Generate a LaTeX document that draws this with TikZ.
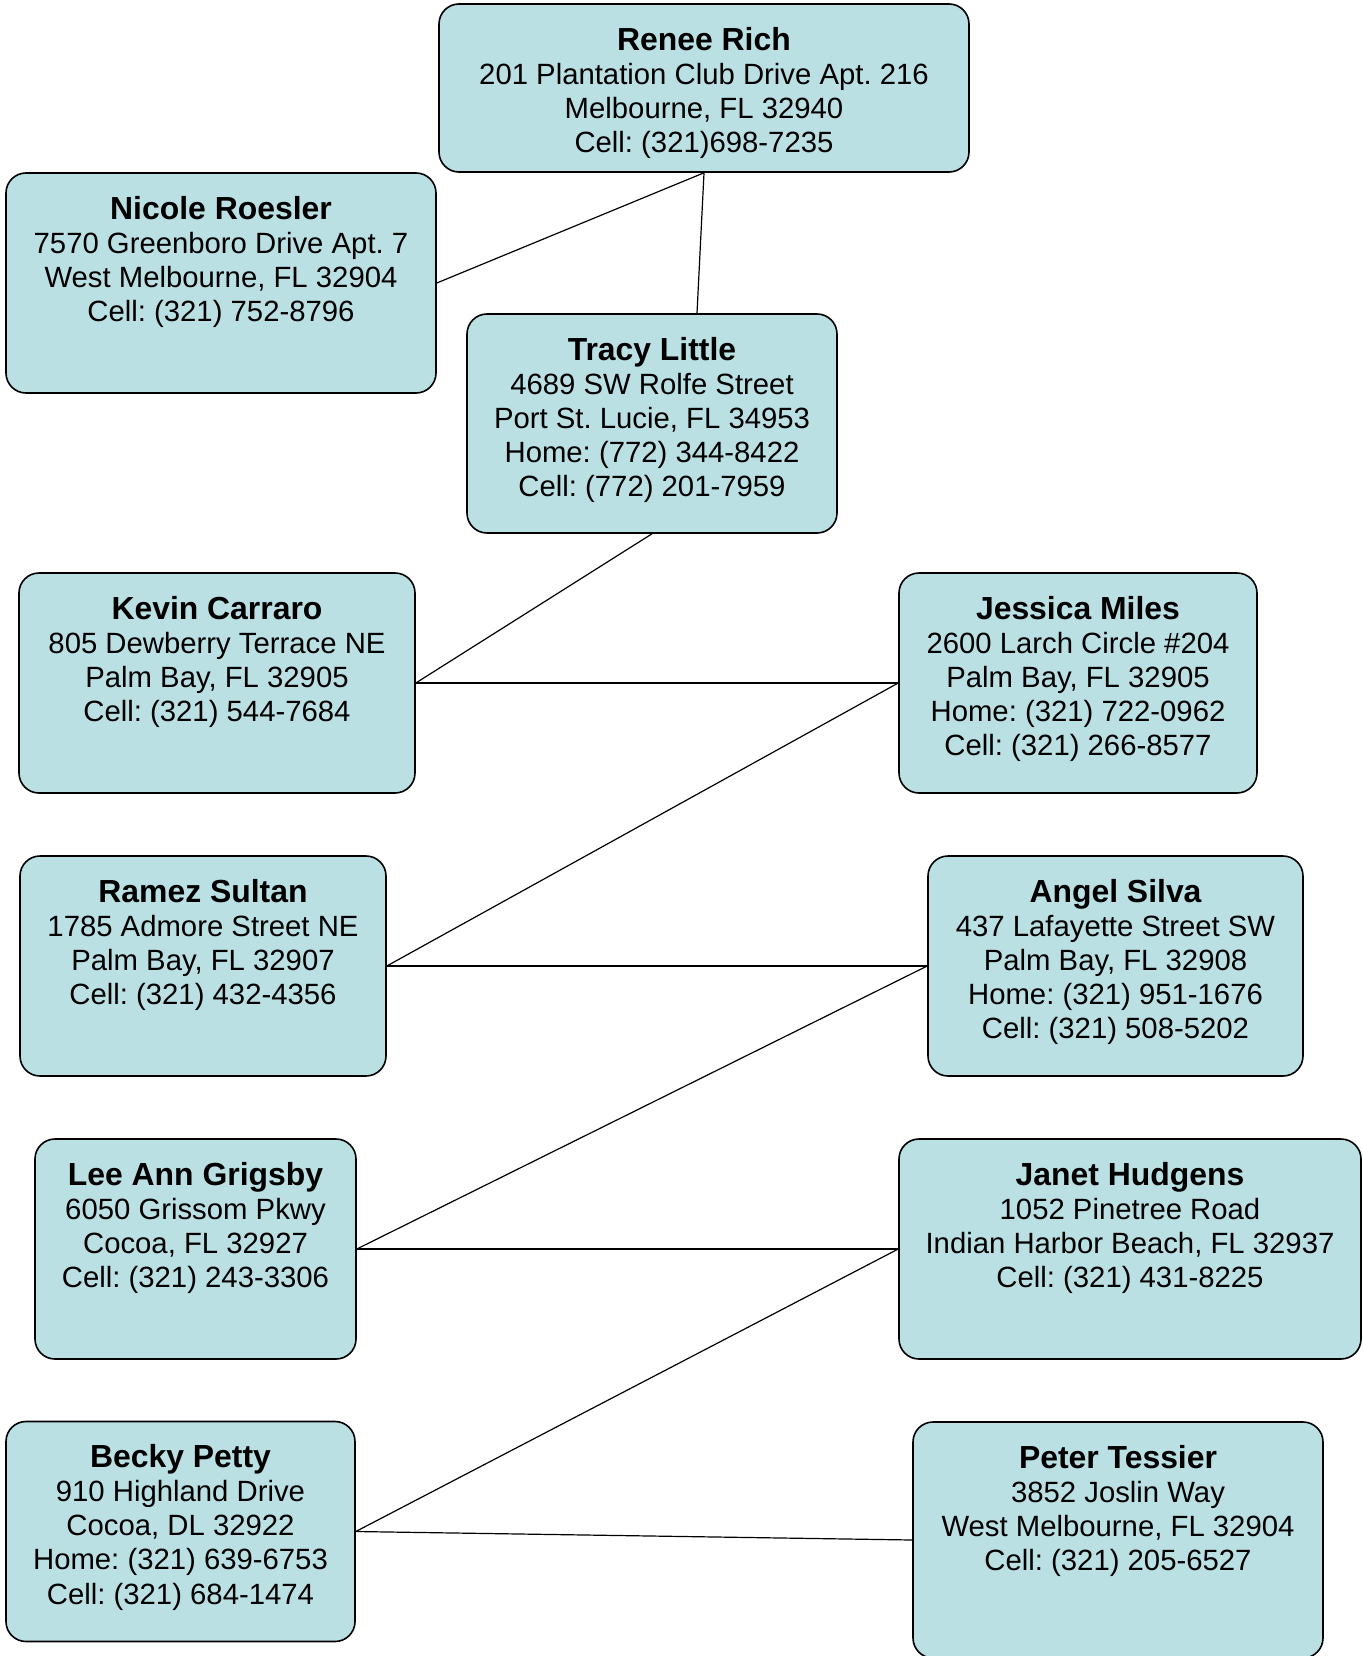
\documentclass[tikz,border=0pt]{standalone}
\usepackage{fontspec}
\setmainfont{Liberation Sans}
\usepackage{tikz}
\usetikzlibrary{positioning}
\definecolor{cardblue}{RGB}{186,224,227}
\tikzstyle{card} = [rectangle, draw=black, line width=1.6pt, fill=cardblue, rounded corners=20pt, inner sep=0pt, font=\fontsize{29.3}{34.1}\selectfont]
\tikzstyle{link} = [line width=1.2pt]
% box of given width and height, text at the top
\newcommand{\card}[3]{\parbox[c][#2pt][t]{#1pt}{\frenchspacing\centering\vspace*{23pt}#3}}
\newcommand{\pname}[1]{{\fontsize{31.9}{34.1}\selectfont\bfseries #1}}

\begin{document}
\begin{tikzpicture}[x=1pt, y=-1pt]
\useasboundingbox (0,0) rectangle (1362,1656);

% Top
\node (renee) [card] at (704,88) {\card{530}{168}{\pname{Renee Rich}\\201 Plantation Club Drive Apt. 216\\Melbourne, FL 32940\\Cell: (321)698-7235}};
\node (nicole) [card] at (221,283) {\card{430}{220}{\pname{Nicole Roesler}\\7570 Greenboro Drive Apt. 7\\West Melbourne, FL 32904\\Cell: (321) 752-8796}};
\node (tracy) [card] at (652,423.5) {\card{370}{219}{\pname{Tracy Little}\\4689 SW Rolfe Street\\Port St. Lucie, FL 34953\\Home: (772) 344-8422\\Cell: (772) 201-7959}};

% Left column
\node (kevin) [card] at (217,683) {\card{396}{220}{\pname{Kevin Carraro}\\805 Dewberry Terrace NE\\Palm Bay, FL 32905\\Cell: (321) 544-7684}};
\node (ramez) [card] at (203,966) {\card{366}{220}{\pname{Ramez Sultan}\\1785 Admore Street NE\\Palm Bay, FL 32907\\Cell: (321) 432-4356}};
\node (leeann) [card] at (195.5,1249) {\card{321}{220}{\pname{Lee Ann Grigsby}\\6050 Grissom Pkwy\\Cocoa, FL 32927\\Cell: (321) 243-3306}};
\node (becky) [card] at (180.5,1531.5) {\card{349}{220}{\pname{Becky Petty}\\910 Highland Drive\\Cocoa, DL 32922\\Home: (321) 639-6753\\Cell: (321) 684-1474}};

% Right column
\node (jessica) [card] at (1078,683) {\card{358}{220}{\pname{Jessica Miles}\\2600 Larch Circle \#204\\Palm Bay, FL 32905\\Home: (321) 722-0962\\Cell: (321) 266-8577}};
\node (angel) [card] at (1115.5,966) {\card{375}{220}{\pname{Angel Silva}\\437 Lafayette Street SW\\Palm Bay, FL 32908\\Home: (321) 951-1676\\Cell: (321) 508-5202}};
\node (janet) [card] at (1130,1249) {\card{462}{220}{\pname{Janet Hudgens}\\1052 Pinetree Road\\Indian Harbor Beach, FL 32937\\Cell: (321) 431-8225}};
\node (peter) [card] at (1118,1540) {\card{410}{236}{\pname{Peter Tessier}\\3852 Joslin Way\\West Melbourne, FL 32904\\Cell: (321) 205-6527}};

% Lines
\coordinate (tracytop) at ([xshift=45pt]tracy.north);
\draw [link] (renee.south) -- (nicole.east);
\draw [link] (renee.south) -- (tracytop);
\draw [link] (tracy.south) -- (kevin.east);
\draw [link] (kevin.east) -- (jessica.west);
\draw [link] (jessica.west) -- (ramez.east);
\draw [link] (ramez.east) -- (angel.west);
\draw [link] (angel.west) -- (leeann.east);
\draw [link] (leeann.east) -- (janet.west);
\draw [link] (janet.west) -- (becky.east);
\draw [link] (becky.east) -- (peter.west);

\end{tikzpicture}
\end{document}
